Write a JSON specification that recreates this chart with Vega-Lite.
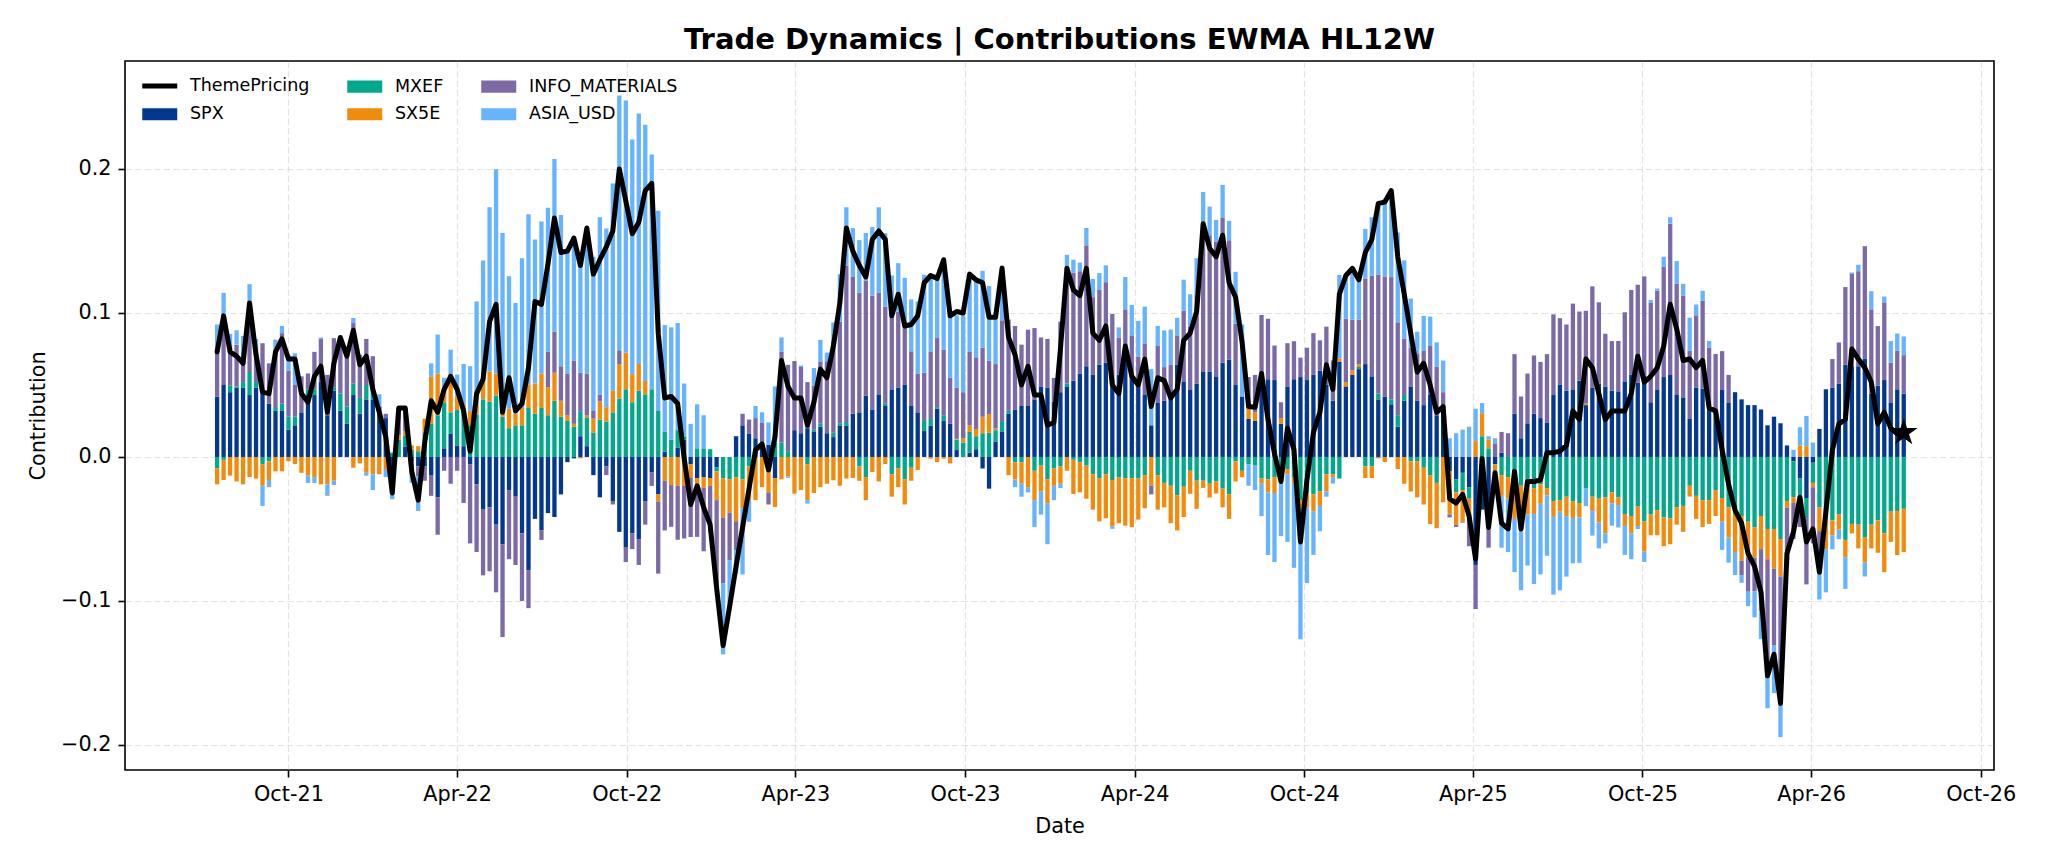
{
"$schema":"https://vega.github.io/schema/vega-lite/v6.json",
"width":1869,"height":709,
"autosize":{"type":"none"},
"padding":{"left":125,"top":61,"right":54,"bottom":94},
"background":"white",
"title":{"text":"Trade Dynamics | Contributions EWMA HL12W","font":"DejaVu Sans","fontSize":29,"fontWeight":"bold","color":"black","anchor":"middle","offset":6},
"config":{
 "view":{"stroke":"black","strokeWidth":1.6},
 "font":"DejaVu Sans",
 "axis":{"domain":false,"grid":true,"gridColor":"#b0b0b0","gridOpacity":0.35,"gridDash":[6.5,3],"gridWidth":1.2,"tickColor":"black","tickSize":7,"tickWidth":1.6,"labelFont":"DejaVu Sans","labelFontSize":20.8,"labelColor":"black","labelPadding":7,"titleFont":"DejaVu Sans","titleFontSize":20.8,"titleFontWeight":"normal","titleColor":"black","zindex":1}
},
"datasets":{
"seriesOrder":[{"series":"SPX","rank":1},{"series":"MXEF","rank":2},{"series":"SX5E","rank":3},{"series":"INFO_MATERIALS","rank":4},{"series":"ASIA_USD","rank":5}],
"weekly":[
{"d":"2021-07-16","SPX":0.042,"MXEF":-0.008,"SX5E":-0.011,"INFO_MATERIALS":0.031,"ASIA_USD":0.019,"ThemePricing":0.073},
{"d":"2021-07-23","SPX":0.050,"MXEF":-0.002,"SX5E":-0.014,"INFO_MATERIALS":0.041,"ASIA_USD":0.023,"ThemePricing":0.098},
{"d":"2021-07-30","SPX":0.045,"MXEF":0.0045,"SX5E":-0.013,"INFO_MATERIALS":0.028,"ASIA_USD":0.008,"ThemePricing":0.073},
{"d":"2021-08-06","SPX":0.048,"MXEF":0.001,"SX5E":-0.017,"INFO_MATERIALS":0.029,"ASIA_USD":0.010,"ThemePricing":0.070},
{"d":"2021-08-13","SPX":0.048,"MXEF":0.004,"SX5E":-0.019,"INFO_MATERIALS":0.015,"ASIA_USD":0.017,"ThemePricing":0.065},
{"d":"2021-08-20","SPX":0.043,"MXEF":0.016,"SX5E":-0.014,"INFO_MATERIALS":0.048,"ASIA_USD":0.013,"ThemePricing":0.107},
{"d":"2021-08-27","SPX":0.048,"MXEF":0.004,"SX5E":-0.015,"INFO_MATERIALS":0.022,"ASIA_USD":0.008,"ThemePricing":0.071},
{"d":"2021-09-03","SPX":0.044,"MXEF":-0.005,"SX5E":-0.015,"INFO_MATERIALS":0.035,"ASIA_USD":-0.014,"ThemePricing":0.045},
{"d":"2021-09-10","SPX":0.037,"MXEF":-0.003,"SX5E":-0.013,"INFO_MATERIALS":0.028,"ASIA_USD":-0.005,"ThemePricing":0.044},
{"d":"2021-09-17","SPX":0.032,"MXEF":0.002,"SX5E":-0.010,"INFO_MATERIALS":0.040,"ASIA_USD":0.0075,"ThemePricing":0.073},
{"d":"2021-09-24","SPX":0.032,"MXEF":0.005,"SX5E":-0.010,"INFO_MATERIALS":0.049,"ASIA_USD":0.005,"ThemePricing":0.082},
{"d":"2021-10-01","SPX":0.019,"MXEF":0.009,"SX5E":-0.003,"INFO_MATERIALS":0.032,"ASIA_USD":0.011,"ThemePricing":0.068},
{"d":"2021-10-08","SPX":0.022,"MXEF":0.006,"SX5E":-0.005,"INFO_MATERIALS":0.022,"ASIA_USD":0.022,"ThemePricing":0.068},
{"d":"2021-10-15","SPX":0.031,"MXEF":0.0,"SX5E":-0.011,"INFO_MATERIALS":0.025,"ASIA_USD":0.0,"ThemePricing":0.044},
{"d":"2021-10-22","SPX":0.043,"MXEF":0.004,"SX5E":-0.013,"INFO_MATERIALS":0.011,"ASIA_USD":-0.005,"ThemePricing":0.038},
{"d":"2021-10-29","SPX":0.043,"MXEF":0.004,"SX5E":-0.014,"INFO_MATERIALS":0.026,"ASIA_USD":-0.004,"ThemePricing":0.056},
{"d":"2021-11-05","SPX":0.052,"MXEF":0.0,"SX5E":-0.019,"INFO_MATERIALS":0.030,"ASIA_USD":0.001,"ThemePricing":0.063},
{"d":"2021-11-12","SPX":0.029,"MXEF":0.0,"SX5E":-0.019,"INFO_MATERIALS":0.028,"ASIA_USD":-0.008,"ThemePricing":0.031},
{"d":"2021-11-19","SPX":0.046,"MXEF":0.0025,"SX5E":-0.0165,"INFO_MATERIALS":0.034,"ASIA_USD":-0.003,"ThemePricing":0.065},
{"d":"2021-11-26","SPX":0.032,"MXEF":0.012,"SX5E":0.0,"INFO_MATERIALS":0.035,"ASIA_USD":0.004,"ThemePricing":0.083},
{"d":"2021-12-03","SPX":0.023,"MXEF":0.012,"SX5E":0.0,"INFO_MATERIALS":0.034,"ASIA_USD":0.0045,"ThemePricing":0.070},
{"d":"2021-12-10","SPX":0.043,"MXEF":0.008,"SX5E":-0.0075,"INFO_MATERIALS":0.042,"ASIA_USD":0.0035,"ThemePricing":0.088},
{"d":"2021-12-17","SPX":0.030,"MXEF":0.011,"SX5E":-0.0045,"INFO_MATERIALS":0.030,"ASIA_USD":0.0,"ThemePricing":0.064},
{"d":"2021-12-24","SPX":0.040,"MXEF":0.010,"SX5E":-0.011,"INFO_MATERIALS":0.032,"ASIA_USD":-0.002,"ThemePricing":0.070},
{"d":"2021-12-31","SPX":0.040,"MXEF":0.005,"SX5E":-0.012,"INFO_MATERIALS":0.025,"ASIA_USD":-0.011,"ThemePricing":0.047},
{"d":"2022-01-07","SPX":0.035,"MXEF":0.0,"SX5E":-0.012,"INFO_MATERIALS":0.0,"ASIA_USD":0.0085,"ThemePricing":0.031},
{"d":"2022-01-14","SPX":0.027,"MXEF":0.0,"SX5E":-0.009,"INFO_MATERIALS":0.003,"ASIA_USD":-0.005,"ThemePricing":0.014},
{"d":"2022-01-21","SPX":-0.010,"MXEF":0.003,"SX5E":-0.005,"INFO_MATERIALS":0.0,"ASIA_USD":-0.0144,"ThemePricing":-0.025},
{"d":"2022-01-28","SPX":0.0,"MXEF":0.012,"SX5E":0.003,"INFO_MATERIALS":0.019,"ASIA_USD":0.0,"ThemePricing":0.034},
{"d":"2022-02-04","SPX":0.007,"MXEF":0.008,"SX5E":0.003,"INFO_MATERIALS":0.016,"ASIA_USD":0.0,"ThemePricing":0.034},
{"d":"2022-02-11","SPX":-0.003,"MXEF":0.005,"SX5E":0.003,"INFO_MATERIALS":-0.010,"ASIA_USD":-0.005,"ThemePricing":-0.010},
{"d":"2022-02-18","SPX":-0.0065,"MXEF":0.004,"SX5E":0.0035,"INFO_MATERIALS":-0.007,"ASIA_USD":-0.024,"ThemePricing":-0.030},
{"d":"2022-02-25","SPX":-0.0065,"MXEF":0.0166,"SX5E":0.010,"INFO_MATERIALS":-0.010,"ASIA_USD":0.0,"ThemePricing":0.010},
{"d":"2022-03-04","SPX":-0.013,"MXEF":0.023,"SX5E":0.033,"INFO_MATERIALS":-0.014,"ASIA_USD":0.009,"ThemePricing":0.039},
{"d":"2022-03-11","SPX":-0.028,"MXEF":0.029,"SX5E":0.029,"INFO_MATERIALS":-0.026,"ASIA_USD":0.027,"ThemePricing":0.031},
{"d":"2022-03-18","SPX":0.006,"MXEF":0.032,"SX5E":0.009,"INFO_MATERIALS":-0.0096,"ASIA_USD":0.008,"ThemePricing":0.047},
{"d":"2022-03-25","SPX":0.016,"MXEF":0.015,"SX5E":0.0255,"INFO_MATERIALS":-0.0186,"ASIA_USD":0.018,"ThemePricing":0.056},
{"d":"2022-04-01","SPX":0.008,"MXEF":0.0246,"SX5E":0.009,"INFO_MATERIALS":-0.0096,"ASIA_USD":0.0156,"ThemePricing":0.047},
{"d":"2022-04-08","SPX":0.0075,"MXEF":0.025,"SX5E":0.0036,"INFO_MATERIALS":-0.032,"ASIA_USD":0.0285,"ThemePricing":0.032},
{"d":"2022-04-15","SPX":-0.005,"MXEF":0.022,"SX5E":0.010,"INFO_MATERIALS":-0.055,"ASIA_USD":0.031,"ThemePricing":0.004},
{"d":"2022-04-22","SPX":-0.019,"MXEF":0.0294,"SX5E":0.0096,"INFO_MATERIALS":-0.047,"ASIA_USD":0.069,"ThemePricing":0.044},
{"d":"2022-04-29","SPX":-0.0366,"MXEF":0.040,"SX5E":0.0195,"INFO_MATERIALS":-0.0456,"ASIA_USD":0.077,"ThemePricing":0.054},
{"d":"2022-05-06","SPX":-0.035,"MXEF":0.0384,"SX5E":0.021,"INFO_MATERIALS":-0.0444,"ASIA_USD":0.114,"ThemePricing":0.094},
{"d":"2022-05-13","SPX":-0.047,"MXEF":0.0426,"SX5E":0.0153,"INFO_MATERIALS":-0.047,"ASIA_USD":0.142,"ThemePricing":0.106},
{"d":"2022-05-20","SPX":-0.0606,"MXEF":0.028,"SX5E":0.0045,"INFO_MATERIALS":-0.0645,"ASIA_USD":0.123,"ThemePricing":0.031},
{"d":"2022-05-27","SPX":-0.023,"MXEF":0.020,"SX5E":0.0135,"INFO_MATERIALS":-0.048,"ASIA_USD":0.092,"ThemePricing":0.055},
{"d":"2022-06-03","SPX":-0.0276,"MXEF":0.022,"SX5E":0.008,"INFO_MATERIALS":-0.0474,"ASIA_USD":0.077,"ThemePricing":0.032},
{"d":"2022-06-10","SPX":-0.053,"MXEF":0.022,"SX5E":0.012,"INFO_MATERIALS":-0.047,"ASIA_USD":0.104,"ThemePricing":0.037},
{"d":"2022-06-17","SPX":-0.0786,"MXEF":0.034,"SX5E":0.0165,"INFO_MATERIALS":-0.0264,"ASIA_USD":0.118,"ThemePricing":0.062},
{"d":"2022-06-24","SPX":-0.043,"MXEF":0.030,"SX5E":0.021,"INFO_MATERIALS":0.0,"ASIA_USD":0.100,"ThemePricing":0.108},
{"d":"2022-07-01","SPX":-0.051,"MXEF":0.034,"SX5E":0.024,"INFO_MATERIALS":-0.0066,"ASIA_USD":0.1056,"ThemePricing":0.106},
{"d":"2022-07-08","SPX":-0.039,"MXEF":0.029,"SX5E":0.0195,"INFO_MATERIALS":0.0246,"ASIA_USD":0.100,"ThemePricing":0.134},
{"d":"2022-07-15","SPX":-0.0417,"MXEF":0.039,"SX5E":0.0195,"INFO_MATERIALS":0.0285,"ASIA_USD":0.120,"ThemePricing":0.166},
{"d":"2022-07-22","SPX":-0.026,"MXEF":0.028,"SX5E":0.011,"INFO_MATERIALS":0.024,"ASIA_USD":0.105,"ThemePricing":0.142},
{"d":"2022-07-29","SPX":-0.0036,"MXEF":0.025,"SX5E":0.004,"INFO_MATERIALS":0.029,"ASIA_USD":0.085,"ThemePricing":0.143},
{"d":"2022-08-05","SPX":-0.001,"MXEF":0.021,"SX5E":0.002,"INFO_MATERIALS":0.044,"ASIA_USD":0.083,"ThemePricing":0.152},
{"d":"2022-08-12","SPX":0.0144,"MXEF":0.0174,"SX5E":-0.001,"INFO_MATERIALS":0.0267,"ASIA_USD":0.076,"ThemePricing":0.133},
{"d":"2022-08-19","SPX":0.0075,"MXEF":0.020,"SX5E":0.0015,"INFO_MATERIALS":0.029,"ASIA_USD":0.101,"ThemePricing":0.159},
{"d":"2022-08-26","SPX":-0.0126,"MXEF":0.017,"SX5E":0.0096,"INFO_MATERIALS":0.0054,"ASIA_USD":0.107,"ThemePricing":0.127},
{"d":"2022-09-02","SPX":-0.028,"MXEF":0.026,"SX5E":0.0126,"INFO_MATERIALS":0.0048,"ASIA_USD":0.123,"ThemePricing":0.137},
{"d":"2022-09-09","SPX":-0.0066,"MXEF":0.0246,"SX5E":0.010,"INFO_MATERIALS":-0.006,"ASIA_USD":0.124,"ThemePricing":0.146},
{"d":"2022-09-16","SPX":-0.0306,"MXEF":0.031,"SX5E":0.015,"INFO_MATERIALS":-0.0024,"ASIA_USD":0.144,"ThemePricing":0.157},
{"d":"2022-09-23","SPX":-0.052,"MXEF":0.0405,"SX5E":0.024,"INFO_MATERIALS":0.0096,"ASIA_USD":0.177,"ThemePricing":0.200},
{"d":"2022-09-30","SPX":-0.063,"MXEF":0.047,"SX5E":0.0255,"INFO_MATERIALS":-0.010,"ASIA_USD":0.175,"ThemePricing":0.178},
{"d":"2022-10-07","SPX":-0.053,"MXEF":0.038,"SX5E":0.0195,"INFO_MATERIALS":-0.011,"ASIA_USD":0.163,"ThemePricing":0.155},
{"d":"2022-10-14","SPX":-0.057,"MXEF":0.046,"SX5E":0.0186,"INFO_MATERIALS":-0.018,"ASIA_USD":0.174,"ThemePricing":0.163},
{"d":"2022-10-21","SPX":-0.031,"MXEF":0.0435,"SX5E":0.0093,"INFO_MATERIALS":-0.016,"ASIA_USD":0.178,"ThemePricing":0.185},
{"d":"2022-10-28","SPX":-0.0105,"MXEF":0.047,"SX5E":0.0,"INFO_MATERIALS":-0.0096,"ASIA_USD":0.163,"ThemePricing":0.190},
{"d":"2022-11-04","SPX":-0.026,"MXEF":0.032,"SX5E":-0.005,"INFO_MATERIALS":-0.050,"ASIA_USD":0.139,"ThemePricing":0.086},
{"d":"2022-11-11","SPX":0.0036,"MXEF":0.014,"SX5E":-0.0165,"INFO_MATERIALS":-0.0345,"ASIA_USD":0.074,"ThemePricing":0.041},
{"d":"2022-11-18","SPX":0.0,"MXEF":0.012,"SX5E":-0.0195,"INFO_MATERIALS":-0.029,"ASIA_USD":0.078,"ThemePricing":0.042},
{"d":"2022-11-25","SPX":0.0066,"MXEF":0.012,"SX5E":-0.020,"INFO_MATERIALS":-0.0375,"ASIA_USD":0.0744,"ThemePricing":0.037},
{"d":"2022-12-02","SPX":0.012,"MXEF":0.0024,"SX5E":-0.020,"INFO_MATERIALS":-0.0366,"ASIA_USD":0.0366,"ThemePricing":-0.001},
{"d":"2022-12-09","SPX":-0.005,"MXEF":0.0,"SX5E":-0.0096,"INFO_MATERIALS":-0.041,"ASIA_USD":0.023,"ThemePricing":-0.033},
{"d":"2022-12-16","SPX":-0.0147,"MXEF":0.006,"SX5E":-0.0054,"INFO_MATERIALS":-0.0354,"ASIA_USD":0.0306,"ThemePricing":-0.020},
{"d":"2022-12-23","SPX":-0.014,"MXEF":0.006,"SX5E":-0.0075,"INFO_MATERIALS":-0.044,"ASIA_USD":0.023,"ThemePricing":-0.035},
{"d":"2022-12-30","SPX":-0.0147,"MXEF":0.0054,"SX5E":-0.0054,"INFO_MATERIALS":-0.0285,"ASIA_USD":-0.004,"ThemePricing":-0.047},
{"d":"2023-01-06","SPX":-0.007,"MXEF":-0.003,"SX5E":-0.020,"INFO_MATERIALS":-0.058,"ASIA_USD":-0.003,"ThemePricing":-0.091},
{"d":"2023-01-13","SPX":0.0,"MXEF":-0.015,"SX5E":-0.027,"INFO_MATERIALS":-0.0456,"ASIA_USD":-0.0495,"ThemePricing":-0.131},
{"d":"2023-01-20","SPX":0.0,"MXEF":-0.0156,"SX5E":-0.023,"INFO_MATERIALS":-0.033,"ASIA_USD":-0.031,"ThemePricing":-0.104},
{"d":"2023-01-27","SPX":0.0144,"MXEF":-0.014,"SX5E":-0.0306,"INFO_MATERIALS":-0.020,"ASIA_USD":-0.0165,"ThemePricing":-0.076},
{"d":"2023-02-03","SPX":0.022,"MXEF":-0.0156,"SX5E":-0.020,"INFO_MATERIALS":0.008,"ASIA_USD":-0.046,"ThemePricing":-0.049},
{"d":"2023-02-10","SPX":0.016,"MXEF":-0.0066,"SX5E":-0.0234,"INFO_MATERIALS":0.010,"ASIA_USD":-0.015,"ThemePricing":-0.022},
{"d":"2023-02-17","SPX":0.013,"MXEF":0.0,"SX5E":-0.030,"INFO_MATERIALS":0.014,"ASIA_USD":0.0084,"ThemePricing":0.005},
{"d":"2023-02-24","SPX":0.0084,"MXEF":0.0,"SX5E":-0.021,"INFO_MATERIALS":0.0156,"ASIA_USD":0.007,"ThemePricing":0.009},
{"d":"2023-03-03","SPX":0.0084,"MXEF":0.0,"SX5E":-0.0246,"INFO_MATERIALS":-0.0084,"ASIA_USD":0.0156,"ThemePricing":-0.009},
{"d":"2023-03-10","SPX":-0.0147,"MXEF":0.010,"SX5E":-0.020,"INFO_MATERIALS":0.0,"ASIA_USD":0.039,"ThemePricing":0.014},
{"d":"2023-03-17","SPX":0.0,"MXEF":0.010,"SX5E":-0.0156,"INFO_MATERIALS":0.063,"ASIA_USD":0.010,"ThemePricing":0.067},
{"d":"2023-03-24","SPX":0.0,"MXEF":0.004,"SX5E":-0.0135,"INFO_MATERIALS":0.060,"ASIA_USD":-0.001,"ThemePricing":0.049},
{"d":"2023-03-31","SPX":0.0186,"MXEF":0.0,"SX5E":-0.0255,"INFO_MATERIALS":0.048,"ASIA_USD":0.0,"ThemePricing":0.041},
{"d":"2023-04-07","SPX":0.0165,"MXEF":0.0,"SX5E":-0.023,"INFO_MATERIALS":0.046,"ASIA_USD":0.001,"ThemePricing":0.041},
{"d":"2023-04-14","SPX":0.020,"MXEF":-0.005,"SX5E":-0.025,"INFO_MATERIALS":0.032,"ASIA_USD":-0.0024,"ThemePricing":0.022},
{"d":"2023-04-21","SPX":0.0174,"MXEF":0.0015,"SX5E":-0.025,"INFO_MATERIALS":0.0306,"ASIA_USD":0.0123,"ThemePricing":0.038},
{"d":"2023-04-28","SPX":0.021,"MXEF":0.0024,"SX5E":-0.021,"INFO_MATERIALS":0.043,"ASIA_USD":0.015,"ThemePricing":0.061},
{"d":"2023-05-05","SPX":0.0165,"MXEF":0.0,"SX5E":-0.0186,"INFO_MATERIALS":0.050,"ASIA_USD":0.006,"ThemePricing":0.055},
{"d":"2023-05-12","SPX":0.0138,"MXEF":0.003,"SX5E":-0.0162,"INFO_MATERIALS":0.0636,"ASIA_USD":0.013,"ThemePricing":0.077},
{"d":"2023-05-19","SPX":0.0216,"MXEF":0.0018,"SX5E":-0.020,"INFO_MATERIALS":0.0705,"ASIA_USD":0.033,"ThemePricing":0.107},
{"d":"2023-05-26","SPX":0.0216,"MXEF":0.0027,"SX5E":-0.015,"INFO_MATERIALS":0.1086,"ASIA_USD":0.0405,"ThemePricing":0.159},
{"d":"2023-06-02","SPX":0.030,"MXEF":0.0,"SX5E":-0.0147,"INFO_MATERIALS":0.095,"ASIA_USD":0.034,"ThemePricing":0.143},
{"d":"2023-06-09","SPX":0.031,"MXEF":-0.0066,"SX5E":-0.010,"INFO_MATERIALS":0.083,"ASIA_USD":0.0366,"ThemePricing":0.133},
{"d":"2023-06-16","SPX":0.0426,"MXEF":-0.014,"SX5E":-0.016,"INFO_MATERIALS":0.080,"ASIA_USD":0.033,"ThemePricing":0.125},
{"d":"2023-06-23","SPX":0.033,"MXEF":0.0,"SX5E":-0.0105,"INFO_MATERIALS":0.079,"ASIA_USD":0.0477,"ThemePricing":0.151},
{"d":"2023-06-30","SPX":0.0435,"MXEF":0.0,"SX5E":-0.017,"INFO_MATERIALS":0.0705,"ASIA_USD":0.0594,"ThemePricing":0.157},
{"d":"2023-07-07","SPX":0.0354,"MXEF":0.0015,"SX5E":-0.005,"INFO_MATERIALS":0.0675,"ASIA_USD":0.051,"ThemePricing":0.151},
{"d":"2023-07-14","SPX":0.0465,"MXEF":-0.012,"SX5E":-0.0156,"INFO_MATERIALS":0.0525,"ASIA_USD":0.027,"ThemePricing":0.098},
{"d":"2023-07-21","SPX":0.048,"MXEF":-0.008,"SX5E":-0.013,"INFO_MATERIALS":0.053,"ASIA_USD":0.0336,"ThemePricing":0.113},
{"d":"2023-07-28","SPX":0.0504,"MXEF":-0.0156,"SX5E":-0.0174,"INFO_MATERIALS":0.044,"ASIA_USD":0.030,"ThemePricing":0.091},
{"d":"2023-08-04","SPX":0.0354,"MXEF":-0.0075,"SX5E":-0.009,"INFO_MATERIALS":0.038,"ASIA_USD":0.036,"ThemePricing":0.092},
{"d":"2023-08-11","SPX":0.031,"MXEF":0.0,"SX5E":-0.009,"INFO_MATERIALS":0.027,"ASIA_USD":0.050,"ThemePricing":0.098},
{"d":"2023-08-18","SPX":0.018,"MXEF":0.007,"SX5E":0.0,"INFO_MATERIALS":0.0336,"ASIA_USD":0.068,"ThemePricing":0.121},
{"d":"2023-08-25","SPX":0.0216,"MXEF":0.0048,"SX5E":-0.0012,"INFO_MATERIALS":0.0465,"ASIA_USD":0.054,"ThemePricing":0.126},
{"d":"2023-09-01","SPX":0.0336,"MXEF":0.001,"SX5E":-0.0036,"INFO_MATERIALS":0.048,"ASIA_USD":0.0444,"ThemePricing":0.124},
{"d":"2023-09-08","SPX":0.025,"MXEF":0.004,"SX5E":-0.0012,"INFO_MATERIALS":0.0456,"ASIA_USD":0.063,"ThemePricing":0.137},
{"d":"2023-09-15","SPX":0.023,"MXEF":0.0,"SX5E":-0.0045,"INFO_MATERIALS":0.032,"ASIA_USD":0.044,"ThemePricing":0.098},
{"d":"2023-09-22","SPX":0.0048,"MXEF":0.0072,"SX5E":0.0006,"INFO_MATERIALS":0.0354,"ASIA_USD":0.0504,"ThemePricing":0.101},
{"d":"2023-09-29","SPX":0.0,"MXEF":0.010,"SX5E":0.003,"INFO_MATERIALS":0.032,"ASIA_USD":0.0534,"ThemePricing":0.100},
{"d":"2023-10-06","SPX":0.003,"MXEF":0.0144,"SX5E":0.0045,"INFO_MATERIALS":0.051,"ASIA_USD":0.054,"ThemePricing":0.127},
{"d":"2023-10-13","SPX":0.0054,"MXEF":0.009,"SX5E":0.005,"INFO_MATERIALS":0.0498,"ASIA_USD":0.053,"ThemePricing":0.123},
{"d":"2023-10-20","SPX":-0.008,"MXEF":0.0165,"SX5E":0.0114,"INFO_MATERIALS":0.048,"ASIA_USD":0.0534,"ThemePricing":0.121},
{"d":"2023-10-27","SPX":-0.022,"MXEF":0.0168,"SX5E":0.013,"INFO_MATERIALS":0.037,"ASIA_USD":0.052,"ThemePricing":0.097},
{"d":"2023-11-03","SPX":0.0108,"MXEF":0.0078,"SX5E":0.0012,"INFO_MATERIALS":0.0447,"ASIA_USD":0.031,"ThemePricing":0.097},
{"d":"2023-11-10","SPX":0.0174,"MXEF":0.0075,"SX5E":0.0,"INFO_MATERIALS":0.070,"ASIA_USD":0.038,"ThemePricing":0.131},
{"d":"2023-11-17","SPX":0.030,"MXEF":0.002,"SX5E":-0.0126,"INFO_MATERIALS":0.0634,"ASIA_USD":0.0,"ThemePricing":0.083},
{"d":"2023-11-24","SPX":0.033,"MXEF":-0.0036,"SX5E":-0.012,"INFO_MATERIALS":0.058,"ASIA_USD":-0.0054,"ThemePricing":0.071},
{"d":"2023-12-01","SPX":0.0354,"MXEF":-0.0036,"SX5E":-0.015,"INFO_MATERIALS":0.0426,"ASIA_USD":-0.009,"ThemePricing":0.050},
{"d":"2023-12-08","SPX":0.0354,"MXEF":0.0,"SX5E":-0.021,"INFO_MATERIALS":0.053,"ASIA_USD":-0.0036,"ThemePricing":0.063},
{"d":"2023-12-15","SPX":0.040,"MXEF":-0.0096,"SX5E":-0.0204,"INFO_MATERIALS":0.0495,"ASIA_USD":-0.0186,"ThemePricing":0.043},
{"d":"2023-12-22","SPX":0.049,"MXEF":-0.006,"SX5E":-0.018,"INFO_MATERIALS":0.034,"ASIA_USD":-0.016,"ThemePricing":0.043},
{"d":"2023-12-29","SPX":0.048,"MXEF":-0.0156,"SX5E":-0.0165,"INFO_MATERIALS":0.034,"ASIA_USD":-0.0285,"ThemePricing":0.022},
{"d":"2024-01-05","SPX":0.0384,"MXEF":-0.008,"SX5E":-0.012,"INFO_MATERIALS":0.0165,"ASIA_USD":-0.010,"ThemePricing":0.024},
{"d":"2024-01-12","SPX":0.045,"MXEF":-0.0066,"SX5E":-0.012,"INFO_MATERIALS":0.049,"ASIA_USD":-0.003,"ThemePricing":0.075},
{"d":"2024-01-19","SPX":0.049,"MXEF":0.002,"SX5E":-0.0096,"INFO_MATERIALS":0.081,"ASIA_USD":0.0084,"ThemePricing":0.131},
{"d":"2024-01-26","SPX":0.053,"MXEF":-0.002,"SX5E":-0.0237,"INFO_MATERIALS":0.075,"ASIA_USD":0.009,"ThemePricing":0.116},
{"d":"2024-02-02","SPX":0.058,"MXEF":-0.0036,"SX5E":-0.021,"INFO_MATERIALS":0.071,"ASIA_USD":0.006,"ThemePricing":0.112},
{"d":"2024-02-09","SPX":0.063,"MXEF":-0.006,"SX5E":-0.023,"INFO_MATERIALS":0.084,"ASIA_USD":0.012,"ThemePricing":0.131},
{"d":"2024-02-16","SPX":0.057,"MXEF":-0.012,"SX5E":-0.0246,"INFO_MATERIALS":0.054,"ASIA_USD":0.0126,"ThemePricing":0.086},
{"d":"2024-02-23","SPX":0.064,"MXEF":-0.0147,"SX5E":-0.030,"INFO_MATERIALS":0.052,"ASIA_USD":0.0117,"ThemePricing":0.081},
{"d":"2024-03-01","SPX":0.0654,"MXEF":-0.012,"SX5E":-0.0306,"INFO_MATERIALS":0.056,"ASIA_USD":0.0117,"ThemePricing":0.091},
{"d":"2024-03-08","SPX":0.055,"MXEF":-0.016,"SX5E":-0.0324,"INFO_MATERIALS":0.0444,"ASIA_USD":-0.0015,"ThemePricing":0.050},
{"d":"2024-03-15","SPX":0.057,"MXEF":-0.014,"SX5E":-0.032,"INFO_MATERIALS":0.026,"ASIA_USD":0.007,"ThemePricing":0.044},
{"d":"2024-03-22","SPX":0.068,"MXEF":-0.0147,"SX5E":-0.033,"INFO_MATERIALS":0.0345,"ASIA_USD":0.0225,"ThemePricing":0.077},
{"d":"2024-03-29","SPX":0.056,"MXEF":-0.0147,"SX5E":-0.034,"INFO_MATERIALS":0.028,"ASIA_USD":0.0216,"ThemePricing":0.056},
{"d":"2024-04-05","SPX":0.0495,"MXEF":-0.015,"SX5E":-0.0285,"INFO_MATERIALS":0.020,"ASIA_USD":0.025,"ThemePricing":0.050},
{"d":"2024-04-12","SPX":0.0435,"MXEF":-0.0126,"SX5E":-0.023,"INFO_MATERIALS":0.0354,"ASIA_USD":0.0255,"ThemePricing":0.068},
{"d":"2024-04-19","SPX":0.022,"MXEF":0.0,"SX5E":-0.020,"INFO_MATERIALS":-0.006,"ASIA_USD":0.039,"ThemePricing":0.035},
{"d":"2024-04-26","SPX":0.0375,"MXEF":-0.0126,"SX5E":-0.024,"INFO_MATERIALS":0.040,"ASIA_USD":0.0135,"ThemePricing":0.055},
{"d":"2024-05-03","SPX":0.039,"MXEF":-0.018,"SX5E":-0.017,"INFO_MATERIALS":0.0234,"ASIA_USD":0.0255,"ThemePricing":0.053},
{"d":"2024-05-10","SPX":0.0405,"MXEF":-0.020,"SX5E":-0.026,"INFO_MATERIALS":0.0234,"ASIA_USD":0.0246,"ThemePricing":0.041},
{"d":"2024-05-17","SPX":0.064,"MXEF":-0.0267,"SX5E":-0.0243,"INFO_MATERIALS":0.020,"ASIA_USD":0.0126,"ThemePricing":0.047},
{"d":"2024-05-24","SPX":0.0525,"MXEF":-0.0207,"SX5E":-0.021,"INFO_MATERIALS":0.049,"ASIA_USD":0.0216,"ThemePricing":0.081},
{"d":"2024-05-31","SPX":0.0465,"MXEF":-0.0096,"SX5E":-0.016,"INFO_MATERIALS":0.044,"ASIA_USD":0.0225,"ThemePricing":0.086},
{"d":"2024-06-07","SPX":0.051,"MXEF":-0.0165,"SX5E":-0.0195,"INFO_MATERIALS":0.0615,"ASIA_USD":0.0255,"ThemePricing":0.101},
{"d":"2024-06-14","SPX":0.059,"MXEF":-0.0165,"SX5E":-0.005,"INFO_MATERIALS":0.103,"ASIA_USD":0.022,"ThemePricing":0.162},
{"d":"2024-06-21","SPX":0.0594,"MXEF":-0.0186,"SX5E":-0.0096,"INFO_MATERIALS":0.0945,"ASIA_USD":0.020,"ThemePricing":0.145},
{"d":"2024-06-28","SPX":0.056,"MXEF":-0.017,"SX5E":-0.0084,"INFO_MATERIALS":0.0936,"ASIA_USD":0.015,"ThemePricing":0.139},
{"d":"2024-07-05","SPX":0.0654,"MXEF":-0.022,"SX5E":-0.013,"INFO_MATERIALS":0.1005,"ASIA_USD":0.023,"ThemePricing":0.154},
{"d":"2024-07-12","SPX":0.0675,"MXEF":-0.026,"SX5E":-0.017,"INFO_MATERIALS":0.083,"ASIA_USD":0.0135,"ThemePricing":0.121},
{"d":"2024-07-19","SPX":0.050,"MXEF":-0.003,"SX5E":-0.014,"INFO_MATERIALS":0.0426,"ASIA_USD":0.036,"ThemePricing":0.111},
{"d":"2024-07-26","SPX":0.042,"MXEF":-0.0096,"SX5E":-0.0045,"INFO_MATERIALS":0.0,"ASIA_USD":0.050,"ThemePricing":0.080},
{"d":"2024-08-02","SPX":0.0264,"MXEF":-0.005,"SX5E":0.0075,"INFO_MATERIALS":0.0216,"ASIA_USD":-0.015,"ThemePricing":0.035},
{"d":"2024-08-09","SPX":0.025,"MXEF":-0.006,"SX5E":0.006,"INFO_MATERIALS":0.026,"ASIA_USD":-0.017,"ThemePricing":0.0345},
{"d":"2024-08-16","SPX":0.056,"MXEF":-0.015,"SX5E":-0.0036,"INFO_MATERIALS":0.0426,"ASIA_USD":-0.0225,"ThemePricing":0.058},
{"d":"2024-08-23","SPX":0.054,"MXEF":-0.0156,"SX5E":-0.009,"INFO_MATERIALS":0.042,"ASIA_USD":-0.0435,"ThemePricing":0.026},
{"d":"2024-08-30","SPX":0.0534,"MXEF":-0.014,"SX5E":-0.011,"INFO_MATERIALS":0.024,"ASIA_USD":-0.048,"ThemePricing":0.0024},
{"d":"2024-09-06","SPX":0.023,"MXEF":-0.014,"SX5E":0.004,"INFO_MATERIALS":0.011,"ASIA_USD":-0.041,"ThemePricing":-0.017},
{"d":"2024-09-13","SPX":0.049,"MXEF":-0.0084,"SX5E":-0.0036,"INFO_MATERIALS":0.030,"ASIA_USD":-0.047,"ThemePricing":0.020},
{"d":"2024-09-20","SPX":0.054,"MXEF":-0.014,"SX5E":-0.004,"INFO_MATERIALS":0.0264,"ASIA_USD":-0.059,"ThemePricing":0.005},
{"d":"2024-09-27","SPX":0.0555,"MXEF":-0.030,"SX5E":-0.005,"INFO_MATERIALS":0.0135,"ASIA_USD":-0.0916,"ThemePricing":-0.059},
{"d":"2024-10-04","SPX":0.0534,"MXEF":-0.025,"SX5E":-0.010,"INFO_MATERIALS":0.0225,"ASIA_USD":-0.0526,"ThemePricing":-0.016},
{"d":"2024-10-11","SPX":0.057,"MXEF":-0.026,"SX5E":-0.012,"INFO_MATERIALS":0.029,"ASIA_USD":-0.030,"ThemePricing":0.017},
{"d":"2024-10-18","SPX":0.060,"MXEF":-0.024,"SX5E":-0.010,"INFO_MATERIALS":0.021,"ASIA_USD":-0.0176,"ThemePricing":0.031},
{"d":"2024-10-25","SPX":0.050,"MXEF":-0.012,"SX5E":-0.012,"INFO_MATERIALS":0.0405,"ASIA_USD":-0.0036,"ThemePricing":0.064},
{"d":"2024-11-01","SPX":0.039,"MXEF":-0.012,"SX5E":-0.002,"INFO_MATERIALS":0.028,"ASIA_USD":-0.0045,"ThemePricing":0.047},
{"d":"2024-11-08","SPX":0.066,"MXEF":-0.015,"SX5E":0.0024,"INFO_MATERIALS":0.0,"ASIA_USD":0.058,"ThemePricing":0.113},
{"d":"2024-11-15","SPX":0.049,"MXEF":0.0,"SX5E":0.003,"INFO_MATERIALS":0.044,"ASIA_USD":0.030,"ThemePricing":0.126},
{"d":"2024-11-22","SPX":0.057,"MXEF":0.0,"SX5E":0.003,"INFO_MATERIALS":0.0354,"ASIA_USD":0.033,"ThemePricing":0.131},
{"d":"2024-11-29","SPX":0.061,"MXEF":0.0015,"SX5E":0.002,"INFO_MATERIALS":0.031,"ASIA_USD":0.030,"ThemePricing":0.123},
{"d":"2024-12-06","SPX":0.0645,"MXEF":-0.0066,"SX5E":-0.008,"INFO_MATERIALS":0.0594,"ASIA_USD":0.0345,"ThemePricing":0.142},
{"d":"2024-12-13","SPX":0.056,"MXEF":-0.0066,"SX5E":-0.008,"INFO_MATERIALS":0.070,"ASIA_USD":0.0405,"ThemePricing":0.151},
{"d":"2024-12-20","SPX":0.040,"MXEF":0.004,"SX5E":-0.001,"INFO_MATERIALS":0.0825,"ASIA_USD":0.050,"ThemePricing":0.176},
{"d":"2024-12-27","SPX":0.042,"MXEF":0.0,"SX5E":-0.0036,"INFO_MATERIALS":0.0834,"ASIA_USD":0.054,"ThemePricing":0.177},
{"d":"2025-01-03","SPX":0.0366,"MXEF":0.0033,"SX5E":0.0,"INFO_MATERIALS":0.085,"ASIA_USD":0.0576,"ThemePricing":0.185},
{"d":"2025-01-10","SPX":0.021,"MXEF":0.008,"SX5E":-0.0084,"INFO_MATERIALS":0.0645,"ASIA_USD":0.0624,"ThemePricing":0.139},
{"d":"2025-01-17","SPX":0.039,"MXEF":0.004,"SX5E":-0.0186,"INFO_MATERIALS":0.039,"ASIA_USD":0.0546,"ThemePricing":0.113},
{"d":"2025-01-24","SPX":0.049,"MXEF":-0.003,"SX5E":-0.021,"INFO_MATERIALS":0.027,"ASIA_USD":0.034,"ThemePricing":0.086},
{"d":"2025-01-31","SPX":0.039,"MXEF":-0.003,"SX5E":-0.025,"INFO_MATERIALS":0.033,"ASIA_USD":0.015,"ThemePricing":0.059},
{"d":"2025-02-07","SPX":0.036,"MXEF":-0.0075,"SX5E":-0.0255,"INFO_MATERIALS":0.038,"ASIA_USD":0.024,"ThemePricing":0.065},
{"d":"2025-02-14","SPX":0.0435,"MXEF":-0.0126,"SX5E":-0.034,"INFO_MATERIALS":0.034,"ASIA_USD":0.020,"ThemePricing":0.050},
{"d":"2025-02-21","SPX":0.029,"MXEF":-0.018,"SX5E":-0.0315,"INFO_MATERIALS":0.0336,"ASIA_USD":0.017,"ThemePricing":0.031},
{"d":"2025-02-28","SPX":0.035,"MXEF":0.0,"SX5E":-0.0315,"INFO_MATERIALS":0.010,"ASIA_USD":0.022,"ThemePricing":0.035},
{"d":"2025-03-07","SPX":-0.010,"MXEF":0.0,"SX5E":-0.030,"INFO_MATERIALS":-0.002,"ASIA_USD":0.013,"ThemePricing":-0.029},
{"d":"2025-03-14","SPX":-0.0156,"MXEF":-0.009,"SX5E":-0.0225,"INFO_MATERIALS":-0.0015,"ASIA_USD":0.0165,"ThemePricing":-0.032},
{"d":"2025-03-21","SPX":-0.011,"MXEF":-0.012,"SX5E":-0.022,"INFO_MATERIALS":-0.0006,"ASIA_USD":0.019,"ThemePricing":-0.026},
{"d":"2025-03-28","SPX":-0.021,"MXEF":-0.008,"SX5E":-0.014,"INFO_MATERIALS":-0.019,"ASIA_USD":0.021,"ThemePricing":-0.041},
{"d":"2025-04-04","SPX":-0.075,"MXEF":0.0,"SX5E":0.011,"INFO_MATERIALS":-0.0306,"ASIA_USD":0.0225,"ThemePricing":-0.071},
{"d":"2025-04-11","SPX":-0.0366,"MXEF":0.0144,"SX5E":0.016,"INFO_MATERIALS":0.0,"ASIA_USD":0.007,"ThemePricing":-0.001},
{"d":"2025-04-18","SPX":-0.046,"MXEF":0.006,"SX5E":0.006,"INFO_MATERIALS":-0.017,"ASIA_USD":0.0024,"ThemePricing":-0.049},
{"d":"2025-04-25","SPX":-0.005,"MXEF":0.0,"SX5E":-0.019,"INFO_MATERIALS":0.009,"ASIA_USD":0.004,"ThemePricing":-0.011},
{"d":"2025-05-02","SPX":0.003,"MXEF":-0.0126,"SX5E":-0.0144,"INFO_MATERIALS":0.0144,"ASIA_USD":-0.036,"ThemePricing":-0.046},
{"d":"2025-05-09","SPX":0.0,"MXEF":-0.014,"SX5E":-0.015,"INFO_MATERIALS":0.0165,"ASIA_USD":-0.037,"ThemePricing":-0.050},
{"d":"2025-05-16","SPX":0.030,"MXEF":-0.021,"SX5E":-0.022,"INFO_MATERIALS":0.0414,"ASIA_USD":-0.037,"ThemePricing":-0.010},
{"d":"2025-05-23","SPX":0.013,"MXEF":-0.020,"SX5E":-0.0315,"INFO_MATERIALS":0.029,"ASIA_USD":-0.041,"ThemePricing":-0.050},
{"d":"2025-05-30","SPX":0.0234,"MXEF":-0.017,"SX5E":-0.023,"INFO_MATERIALS":0.0345,"ASIA_USD":-0.0354,"ThemePricing":-0.017},
{"d":"2025-06-06","SPX":0.030,"MXEF":-0.0216,"SX5E":-0.018,"INFO_MATERIALS":0.0405,"ASIA_USD":-0.0486,"ThemePricing":-0.017},
{"d":"2025-06-13","SPX":0.027,"MXEF":-0.019,"SX5E":-0.0135,"INFO_MATERIALS":0.039,"ASIA_USD":-0.049,"ThemePricing":-0.016},
{"d":"2025-06-20","SPX":0.024,"MXEF":-0.0216,"SX5E":-0.005,"INFO_MATERIALS":0.0474,"ASIA_USD":-0.042,"ThemePricing":0.003},
{"d":"2025-06-27","SPX":0.043,"MXEF":-0.0306,"SX5E":-0.011,"INFO_MATERIALS":0.056,"ASIA_USD":-0.054,"ThemePricing":0.003},
{"d":"2025-07-04","SPX":0.0504,"MXEF":-0.030,"SX5E":-0.008,"INFO_MATERIALS":0.046,"ASIA_USD":-0.0546,"ThemePricing":0.004},
{"d":"2025-07-11","SPX":0.046,"MXEF":-0.0276,"SX5E":-0.0135,"INFO_MATERIALS":0.046,"ASIA_USD":-0.042,"ThemePricing":0.008},
{"d":"2025-07-18","SPX":0.0465,"MXEF":-0.031,"SX5E":-0.0114,"INFO_MATERIALS":0.060,"ASIA_USD":-0.0315,"ThemePricing":0.032},
{"d":"2025-07-25","SPX":0.053,"MXEF":-0.032,"SX5E":-0.010,"INFO_MATERIALS":0.048,"ASIA_USD":-0.0315,"ThemePricing":0.026},
{"d":"2025-08-01","SPX":0.036,"MXEF":-0.0216,"SX5E":0.001,"INFO_MATERIALS":0.0645,"ASIA_USD":-0.0126,"ThemePricing":0.068},
{"d":"2025-08-08","SPX":0.048,"MXEF":-0.0276,"SX5E":-0.010,"INFO_MATERIALS":0.0705,"ASIA_USD":-0.017,"ThemePricing":0.062},
{"d":"2025-08-15","SPX":0.051,"MXEF":-0.029,"SX5E":-0.0165,"INFO_MATERIALS":0.0564,"ASIA_USD":-0.018,"ThemePricing":0.044},
{"d":"2025-08-22","SPX":0.049,"MXEF":-0.028,"SX5E":-0.025,"INFO_MATERIALS":0.0366,"ASIA_USD":-0.007,"ThemePricing":0.026},
{"d":"2025-08-29","SPX":0.046,"MXEF":-0.0246,"SX5E":-0.0075,"INFO_MATERIALS":0.0345,"ASIA_USD":-0.0156,"ThemePricing":0.032},
{"d":"2025-09-05","SPX":0.0456,"MXEF":-0.028,"SX5E":-0.0054,"INFO_MATERIALS":0.035,"ASIA_USD":-0.0156,"ThemePricing":0.032},
{"d":"2025-09-12","SPX":0.0525,"MXEF":-0.0396,"SX5E":-0.0084,"INFO_MATERIALS":0.048,"ASIA_USD":-0.020,"ThemePricing":0.032},
{"d":"2025-09-19","SPX":0.057,"MXEF":-0.041,"SX5E":-0.012,"INFO_MATERIALS":0.059,"ASIA_USD":-0.018,"ThemePricing":0.044},
{"d":"2025-09-26","SPX":0.0516,"MXEF":-0.0345,"SX5E":-0.0135,"INFO_MATERIALS":0.068,"ASIA_USD":-0.002,"ThemePricing":0.070},
{"d":"2025-10-03","SPX":0.0564,"MXEF":-0.0447,"SX5E":-0.021,"INFO_MATERIALS":0.069,"ASIA_USD":-0.0072,"ThemePricing":0.052},
{"d":"2025-10-10","SPX":0.038,"MXEF":-0.040,"SX5E":-0.0144,"INFO_MATERIALS":0.069,"ASIA_USD":0.002,"ThemePricing":0.056},
{"d":"2025-10-17","SPX":0.0465,"MXEF":-0.037,"SX5E":-0.0174,"INFO_MATERIALS":0.069,"ASIA_USD":0.0015,"ThemePricing":0.062},
{"d":"2025-10-24","SPX":0.0555,"MXEF":-0.042,"SX5E":-0.020,"INFO_MATERIALS":0.0765,"ASIA_USD":0.007,"ThemePricing":0.077},
{"d":"2025-10-31","SPX":0.057,"MXEF":-0.0426,"SX5E":-0.018,"INFO_MATERIALS":0.105,"ASIA_USD":0.0045,"ThemePricing":0.106},
{"d":"2025-11-07","SPX":0.0435,"MXEF":-0.035,"SX5E":-0.012,"INFO_MATERIALS":0.077,"ASIA_USD":0.0156,"ThemePricing":0.089},
{"d":"2025-11-14","SPX":0.0414,"MXEF":-0.034,"SX5E":-0.018,"INFO_MATERIALS":0.0705,"ASIA_USD":0.0084,"ThemePricing":0.067},
{"d":"2025-11-21","SPX":0.0264,"MXEF":-0.020,"SX5E":-0.0075,"INFO_MATERIALS":0.0474,"ASIA_USD":0.023,"ThemePricing":0.068},
{"d":"2025-11-28","SPX":0.048,"MXEF":-0.027,"SX5E":-0.016,"INFO_MATERIALS":0.0504,"ASIA_USD":0.0075,"ThemePricing":0.062},
{"d":"2025-12-05","SPX":0.0474,"MXEF":-0.030,"SX5E":-0.0186,"INFO_MATERIALS":0.061,"ASIA_USD":0.007,"ThemePricing":0.067},
{"d":"2025-12-12","SPX":0.034,"MXEF":-0.030,"SX5E":-0.0165,"INFO_MATERIALS":0.042,"ASIA_USD":0.0045,"ThemePricing":0.034},
{"d":"2025-12-19","SPX":0.031,"MXEF":-0.023,"SX5E":-0.018,"INFO_MATERIALS":0.0405,"ASIA_USD":0.0,"ThemePricing":0.032},
{"d":"2025-12-26","SPX":0.0465,"MXEF":-0.0285,"SX5E":-0.0165,"INFO_MATERIALS":0.027,"ASIA_USD":-0.0195,"ThemePricing":0.005},
{"d":"2026-01-02","SPX":0.0375,"MXEF":-0.035,"SX5E":-0.021,"INFO_MATERIALS":0.0195,"ASIA_USD":-0.0174,"ThemePricing":-0.019},
{"d":"2026-01-09","SPX":0.045,"MXEF":-0.0396,"SX5E":-0.0264,"INFO_MATERIALS":0.0,"ASIA_USD":-0.016,"ThemePricing":-0.037},
{"d":"2026-01-16","SPX":0.040,"MXEF":-0.041,"SX5E":-0.031,"INFO_MATERIALS":-0.010,"ASIA_USD":-0.0054,"ThemePricing":-0.046},
{"d":"2026-01-23","SPX":0.036,"MXEF":-0.045,"SX5E":-0.0246,"INFO_MATERIALS":-0.024,"ASIA_USD":-0.010,"ThemePricing":-0.067},
{"d":"2026-01-30","SPX":0.036,"MXEF":-0.049,"SX5E":-0.021,"INFO_MATERIALS":-0.0234,"ASIA_USD":-0.018,"ThemePricing":-0.076},
{"d":"2026-02-06","SPX":0.033,"MXEF":-0.041,"SX5E":-0.023,"INFO_MATERIALS":-0.043,"ASIA_USD":-0.0195,"ThemePricing":-0.094},
{"d":"2026-02-13","SPX":0.022,"MXEF":-0.050,"SX5E":-0.021,"INFO_MATERIALS":-0.0825,"ASIA_USD":-0.021,"ThemePricing":-0.152},
{"d":"2026-02-20","SPX":0.028,"MXEF":-0.050,"SX5E":-0.0276,"INFO_MATERIALS":-0.0534,"ASIA_USD":-0.033,"ThemePricing":-0.137},
{"d":"2026-02-27","SPX":0.0234,"MXEF":-0.057,"SX5E":-0.026,"INFO_MATERIALS":-0.090,"ASIA_USD":-0.0216,"ThemePricing":-0.171},
{"d":"2026-03-06","SPX":0.008,"MXEF":-0.0306,"SX5E":-0.0045,"INFO_MATERIALS":-0.040,"ASIA_USD":0.0,"ThemePricing":-0.067},
{"d":"2026-03-13","SPX":-0.003,"MXEF":-0.025,"SX5E":-0.004,"INFO_MATERIALS":-0.025,"ASIA_USD":0.005,"ThemePricing":-0.052},
{"d":"2026-03-20","SPX":-0.015,"MXEF":-0.012,"SX5E":0.008,"INFO_MATERIALS":-0.0216,"ASIA_USD":0.0126,"ThemePricing":-0.028},
{"d":"2026-03-27","SPX":-0.0285,"MXEF":-0.014,"SX5E":0.0075,"INFO_MATERIALS":-0.046,"ASIA_USD":0.021,"ThemePricing":-0.059},
{"d":"2026-04-03","SPX":-0.004,"MXEF":-0.014,"SX5E":-0.003,"INFO_MATERIALS":-0.039,"ASIA_USD":0.010,"ThemePricing":-0.050},
{"d":"2026-04-10","SPX":0.0195,"MXEF":-0.035,"SX5E":-0.0165,"INFO_MATERIALS":-0.018,"ASIA_USD":-0.0295,"ThemePricing":-0.080},
{"d":"2026-04-17","SPX":0.047,"MXEF":-0.043,"SX5E":-0.021,"INFO_MATERIALS":0.0,"ASIA_USD":-0.030,"ThemePricing":-0.038},
{"d":"2026-04-24","SPX":0.048,"MXEF":-0.044,"SX5E":-0.0105,"INFO_MATERIALS":0.020,"ASIA_USD":-0.0096,"ThemePricing":0.005},
{"d":"2026-05-01","SPX":0.051,"MXEF":-0.040,"SX5E":-0.0105,"INFO_MATERIALS":0.0285,"ASIA_USD":-0.0066,"ThemePricing":0.023},
{"d":"2026-05-08","SPX":0.064,"MXEF":-0.0576,"SX5E":-0.012,"INFO_MATERIALS":0.054,"ASIA_USD":-0.022,"ThemePricing":0.026},
{"d":"2026-05-15","SPX":0.063,"MXEF":-0.0465,"SX5E":-0.0066,"INFO_MATERIALS":0.0645,"ASIA_USD":0.0006,"ThemePricing":0.075},
{"d":"2026-05-22","SPX":0.063,"MXEF":-0.047,"SX5E":-0.0165,"INFO_MATERIALS":0.066,"ASIA_USD":0.0045,"ThemePricing":0.068},
{"d":"2026-05-29","SPX":0.0684,"MXEF":-0.056,"SX5E":-0.0174,"INFO_MATERIALS":0.078,"ASIA_USD":-0.0096,"ThemePricing":0.062},
{"d":"2026-06-05","SPX":0.044,"MXEF":-0.047,"SX5E":-0.0165,"INFO_MATERIALS":0.0585,"ASIA_USD":0.0126,"ThemePricing":0.052},
{"d":"2026-06-12","SPX":0.0495,"MXEF":-0.044,"SX5E":-0.0225,"INFO_MATERIALS":0.0414,"ASIA_USD":0.0,"ThemePricing":0.023},
{"d":"2026-06-19","SPX":0.0534,"MXEF":-0.053,"SX5E":-0.027,"INFO_MATERIALS":0.054,"ASIA_USD":0.004,"ThemePricing":0.031},
{"d":"2026-06-26","SPX":0.0375,"MXEF":-0.038,"SX5E":-0.021,"INFO_MATERIALS":0.028,"ASIA_USD":0.015,"ThemePricing":0.020},
{"d":"2026-07-03","SPX":0.047,"MXEF":-0.0375,"SX5E":-0.0306,"INFO_MATERIALS":0.0267,"ASIA_USD":0.012,"ThemePricing":0.016},
{"d":"2026-07-10","SPX":0.044,"MXEF":-0.036,"SX5E":-0.030,"INFO_MATERIALS":0.0267,"ASIA_USD":0.013,"ThemePricing":0.017}
]},
"layer":[
{
 "data":{"name":"weekly"},
 "transform":[
  {"fold":["SPX","MXEF","SX5E","INFO_MATERIALS","ASIA_USD"],"as":["series","value"]},
  {"lookup":"series","from":{"data":{"name":"seriesOrder"},"key":"series","fields":["rank"]}}
 ],
 "mark":{"type":"bar","size":4.3,"strokeWidth":0},
 "encoding":{
  "x":{"field":"d","type":"temporal","title":"Date",
   "scale":{"type":"utc","domain":[{"year":2021,"month":4,"date":13,"utc":true},{"year":2026,"month":10,"date":10,"utc":true}]},
   "axis":{"values":[{"year":2021,"month":10,"date":1,"utc":true},{"year":2022,"month":4,"date":1,"utc":true},{"year":2022,"month":10,"date":1,"utc":true},{"year":2023,"month":4,"date":1,"utc":true},{"year":2023,"month":10,"date":1,"utc":true},{"year":2024,"month":4,"date":1,"utc":true},{"year":2024,"month":10,"date":1,"utc":true},{"year":2025,"month":4,"date":1,"utc":true},{"year":2025,"month":10,"date":1,"utc":true},{"year":2026,"month":4,"date":1,"utc":true},{"year":2026,"month":10,"date":1,"utc":true}],
    "labelExpr":"utcFormat(datum.value, '%b-%y')","titlePadding":13,"labelFlush":false,"labelOverlap":false}},
  "y":{"field":"value","type":"quantitative","stack":"zero","title":"Contribution",
   "scale":{"domain":[-0.2174,0.275],"nice":false,"zero":false},
   "axis":{"values":[-0.2,-0.1,0,0.1,0.2],"format":".1f","titlePadding":12}},
  "color":{"field":"series","type":"nominal",
   "scale":{"domain":["ThemePricing","SPX","MXEF","SX5E","INFO_MATERIALS","ASIA_USD"],"range":["#000000","#04388f","#00a88c","#f28b0c","#7b6aa5","#66b3ff"]},
   "legend":{"title":null,"orient":"none","legendX":26,"legendY":16,"columns":3,"columnPadding":37,"rowPadding":8.5,"padding":0,
    "labelFont":"DejaVu Sans","labelFontSize":17.5,"labelColor":"black","labelOffset":21.5,
    "symbolSize":1225,"symbolOpacity":1,
    "symbolType":{"expr":"datum.value == 'ThemePricing' ? 'M-1,0H1' : 'M-1,-0.343H1V0.343H-1Z'"},
    "symbolStrokeColor":{"expr":"datum.value == 'ThemePricing' ? '#000000' : 'transparent'"},
    "symbolStrokeWidth":{"expr":"datum.value == 'ThemePricing' ? 5 : 0"}}},
  "order":{"field":"rank","type":"quantitative","sort":"ascending"}
 }
},
{
 "mark":{"type":"rule","color":"#808080","strokeWidth":2},
 "encoding":{"y":{"datum":0,"type":"quantitative"}}
},
{
 "data":{"name":"weekly"},
 "mark":{"type":"line","strokeWidth":5,"strokeJoin":"round","strokeCap":"round"},
 "encoding":{
  "x":{"field":"d","type":"temporal"},
  "y":{"field":"ThemePricing","type":"quantitative","title":"Contribution"},
  "color":{"datum":"ThemePricing","type":"nominal"}
 }
},
{
 "data":{"name":"weekly"},
 "transform":[{"filter":{"field":"d","equal":{"year":2026,"month":7,"date":10,"utc":true}}}],
 "mark":{"type":"point","filled":true,"opacity":1,"size":850,"color":"black","shape":"M0,-1L0.2245,-0.309L0.951,-0.309L0.363,0.118L0.588,0.809L0,0.382L-0.588,0.809L-0.363,0.118L-0.951,-0.309L-0.2245,-0.309Z"},
 "encoding":{
  "x":{"field":"d","type":"temporal"},
  "y":{"field":"ThemePricing","type":"quantitative","title":"Contribution"}
 }
}
]
}
